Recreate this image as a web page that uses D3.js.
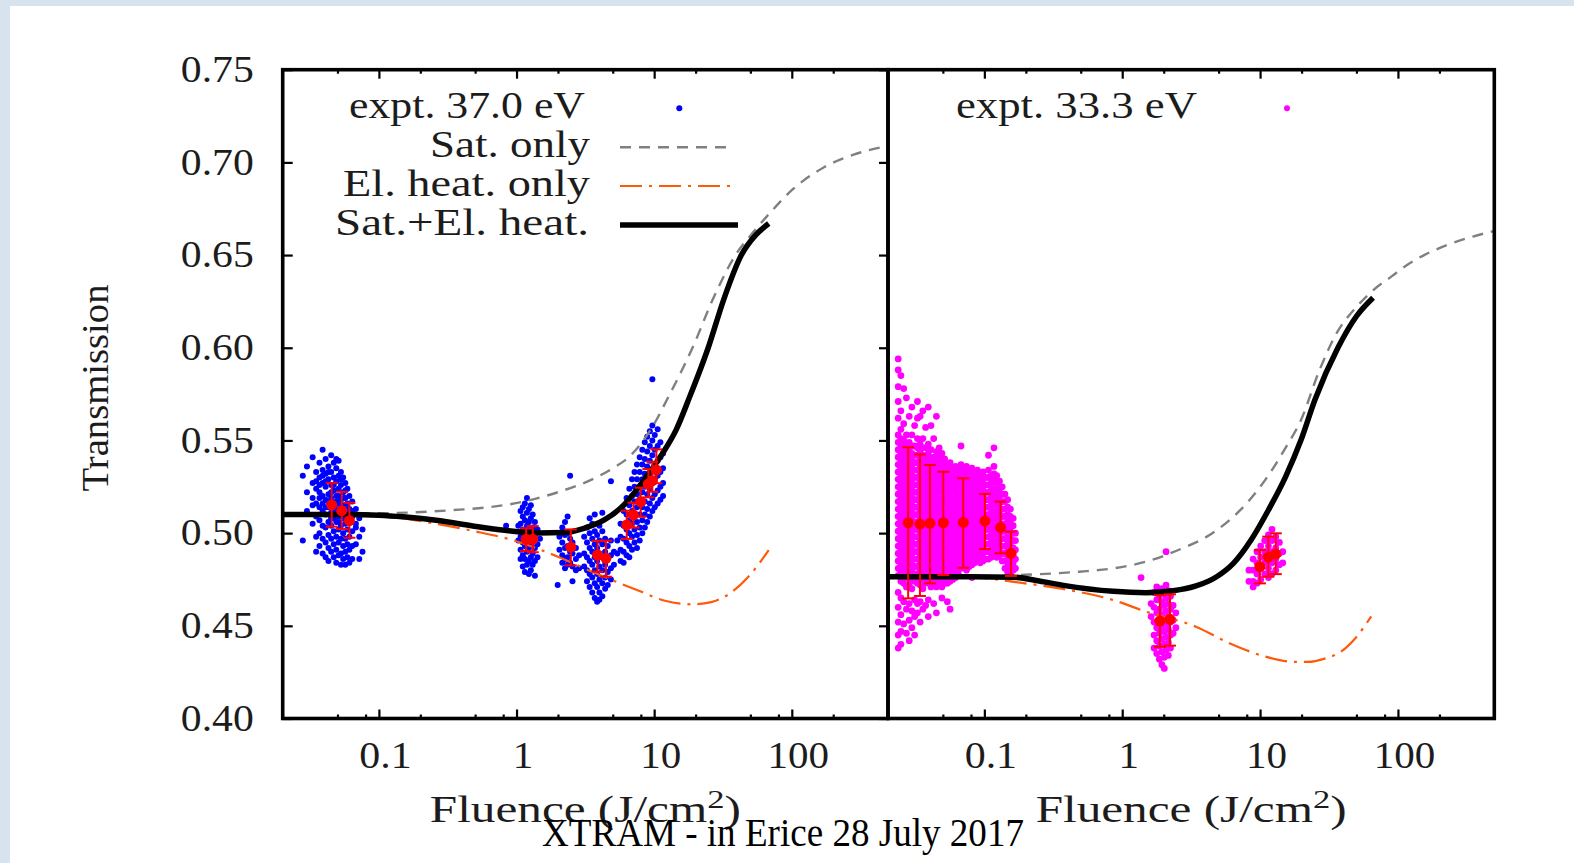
<!DOCTYPE html>
<html>
<head>
<meta charset="utf-8">
<script src="https://cdn.jsdelivr.net/npm/d3@7"></script>
<style>
  html, body { margin: 0; padding: 0; background: #ffffff; }
  svg { display: block; }
</style>
</head>
<body>
<svg id="chart" width="1574" height="863"></svg>
<script>
// ---------------- data ----------------
const fluenceDomain = [0.02, 500];
const transmissionDomain = [0.40, 0.75];
const fluenceTicks = [0.1, 1, 10, 100];
const fluenceTickLabels = ["0.1", "1", "10", "100"];
const fluenceMinorBottom = [0.05, 0.08, 0.2, 0.5, 0.8, 2, 5, 8, 20, 50, 80, 200];
const fluenceMinorTop = [0.05, 0.2, 0.5, 2, 5, 20, 50, 200];
const transmissionTicks = [0.40, 0.45, 0.50, 0.55, 0.60, 0.65, 0.70, 0.75];
const transmissionTickLabels = ["0.40", "0.45", "0.50", "0.55", "0.60", "0.65", "0.70", "0.75"];

const legendLabels37 = ["expt. 37.0 eV", "Sat. only", "El. heat. only", "Sat.+El. heat."];
const legendLabel33 = "expt. 33.3 eV";

// measured shots, 37.0 eV: [fluence, [transmission, ...]]
const expt37 = [
  [0.028, [0.496, 0.531]],
  [0.030, [0.522, 0.512, 0.536]],
  [0.033, [0.527, 0.515, 0.519, 0.505, 0.541]],
  [0.035, [0.533, 0.524, 0.516, 0.509, 0.498, 0.490, 0.528]],
  [0.037, [0.538, 0.530, 0.522, 0.514, 0.507, 0.500, 0.493, 0.519, 0.526]],
  [0.039, [0.534, 0.527, 0.520, 0.512, 0.504, 0.497, 0.489, 0.531, 0.516, 0.545]],
  [0.041, [0.540, 0.532, 0.525, 0.518, 0.510, 0.503, 0.495, 0.487, 0.514, 0.528]],
  [0.043, [0.536, 0.529, 0.521, 0.514, 0.506, 0.499, 0.492, 0.485, 0.533, 0.517]],
  [0.045, [0.542, 0.533, 0.526, 0.519, 0.511, 0.504, 0.497, 0.490, 0.508, 0.522]],
  [0.047, [0.538, 0.530, 0.523, 0.515, 0.508, 0.501, 0.494, 0.487, 0.526, 0.512]],
  [0.049, [0.535, 0.528, 0.520, 0.513, 0.506, 0.498, 0.491, 0.484, 0.517, 0.540]],
  [0.051, [0.539, 0.531, 0.524, 0.516, 0.509, 0.502, 0.495, 0.488, 0.520, 0.506]],
  [0.053, [0.533, 0.526, 0.518, 0.511, 0.504, 0.497, 0.489, 0.483, 0.514, 0.529]],
  [0.055, [0.530, 0.522, 0.515, 0.508, 0.500, 0.493, 0.486, 0.519, 0.511]],
  [0.057, [0.527, 0.519, 0.512, 0.505, 0.497, 0.490, 0.483, 0.523]],
  [0.059, [0.524, 0.516, 0.509, 0.502, 0.494, 0.487, 0.513]],
  [0.061, [0.520, 0.513, 0.506, 0.498, 0.491, 0.484]],
  [0.064, [0.517, 0.509, 0.501, 0.493, 0.486, 0.512]],
  [0.068, [0.513, 0.503, 0.494, 0.505]],
  [0.072, [0.508, 0.498, 0.486]],
  [0.076, [0.502, 0.490]],
  [0.84, [0.504]],
  [1.03, [0.504, 0.496]],
  [1.07, [0.512, 0.505, 0.498, 0.491, 0.486]],
  [1.11, [0.509, 0.502, 0.495, 0.488, 0.482, 0.514]],
  [1.15, [0.516, 0.507, 0.500, 0.493, 0.486, 0.479, 0.498]],
  [1.19, [0.519, 0.511, 0.504, 0.497, 0.490, 0.483, 0.494]],
  [1.23, [0.513, 0.506, 0.499, 0.492, 0.485, 0.478, 0.502]],
  [1.27, [0.515, 0.508, 0.501, 0.494, 0.487, 0.480, 0.497]],
  [1.31, [0.510, 0.503, 0.496, 0.489, 0.483]],
  [1.36, [0.506, 0.499, 0.492, 0.485, 0.477]],
  [1.42, [0.502, 0.494, 0.487]],
  [1.48, [0.497]],
  [1.99, [0.472]],
  [2.05, [0.498, 0.491]],
  [2.15, [0.503, 0.495, 0.488, 0.484]],
  [2.25, [0.506, 0.499, 0.492, 0.486, 0.481]],
  [2.35, [0.500, 0.493, 0.487, 0.483, 0.509]],
  [2.45, [0.531, 0.497, 0.490, 0.484]],
  [2.55, [0.495, 0.489, 0.482, 0.474]],
  [2.70, [0.492, 0.486, 0.480]],
  [2.85, [0.488, 0.481]],
  [3.10, [0.498, 0.489, 0.482]],
  [3.25, [0.503, 0.495, 0.487, 0.480, 0.474]],
  [3.40, [0.508, 0.500, 0.492, 0.485, 0.478, 0.471]],
  [3.55, [0.505, 0.497, 0.490, 0.483, 0.476, 0.468]],
  [3.70, [0.510, 0.501, 0.494, 0.487, 0.480, 0.473, 0.465]],
  [3.85, [0.499, 0.492, 0.485, 0.478, 0.471, 0.463]],
  [4.00, [0.504, 0.496, 0.489, 0.482, 0.475, 0.468, 0.464]],
  [4.20, [0.511, 0.501, 0.494, 0.487, 0.480, 0.473, 0.466]],
  [4.40, [0.497, 0.490, 0.483, 0.476, 0.470]],
  [4.60, [0.493, 0.486, 0.479, 0.472]],
  [4.85, [0.528, 0.496, 0.488, 0.481, 0.475]],
  [5.10, [0.490, 0.483]],
  [5.40, [0.496, 0.489]],
  [5.70, [0.505, 0.498, 0.491, 0.485]],
  [6.00, [0.512, 0.504, 0.497, 0.490, 0.484]],
  [6.30, [0.519, 0.510, 0.502, 0.495, 0.488]],
  [6.60, [0.524, 0.515, 0.507, 0.500, 0.493, 0.487]],
  [6.90, [0.529, 0.520, 0.512, 0.505, 0.498, 0.491]],
  [7.20, [0.533, 0.525, 0.517, 0.509, 0.502, 0.495]],
  [7.50, [0.537, 0.529, 0.521, 0.514, 0.506, 0.499, 0.492]],
  [7.85, [0.541, 0.533, 0.525, 0.518, 0.510, 0.503, 0.496]],
  [8.20, [0.545, 0.537, 0.529, 0.522, 0.514, 0.507, 0.500]],
  [8.55, [0.549, 0.540, 0.532, 0.525, 0.517, 0.510, 0.503]],
  [8.90, [0.552, 0.544, 0.536, 0.528, 0.521, 0.513, 0.506]],
  [9.30, [0.555, 0.547, 0.539, 0.531, 0.524, 0.516, 0.509]],
  [9.70, [0.583, 0.558, 0.550, 0.542, 0.534, 0.527, 0.519, 0.512]],
  [10.1, [0.553, 0.545, 0.537, 0.529, 0.521, 0.514]],
  [10.6, [0.556, 0.547, 0.539, 0.531, 0.523, 0.516]],
  [11.1, [0.549, 0.541, 0.533, 0.525, 0.518]],
  [11.6, [0.543, 0.535, 0.527, 0.520]]
];

// binned averages, 37.0 eV
const meanFluence37 = [0.0454, 0.0537, 0.0611, 1.174, 1.312, 2.48, 3.88, 4.46, 6.32, 7.07, 7.98, 9.08, 9.70, 10.37];
const meanValue37   = [0.5152, 0.5121, 0.5067, 0.4967, 0.4967, 0.4924, 0.4882, 0.4864, 0.5044, 0.5098, 0.5169, 0.5265, 0.5283, 0.5341];
const meanHigh37    = [0.5271, 0.5223, 0.5164, 0.5026, 0.5038, 0.5020, 0.4959, 0.4959, 0.5121, 0.5164, 0.5245, 0.5346, 0.5385, 0.5452];
const meanLow37     = [0.5035, 0.5022, 0.4975, 0.4904, 0.4897, 0.4826, 0.4792, 0.4765, 0.4969, 0.5030, 0.5089, 0.5193, 0.5223, 0.5269];

// model curves, 37.0 eV: [fluence, transmission]
const satOnly37 = [[0.02, 0.5101], [0.05, 0.5103], [0.1, 0.5107], [0.18, 0.5112], [0.34, 0.5124], [0.58, 0.5137], [1.11, 0.5169], [2.04, 0.5223], [3.48, 0.5287], [5.0, 0.5350], [6.4, 0.5404], [9.4, 0.5556], [13, 0.5750], [19, 0.6000], [27, 0.6270], [39, 0.6500], [52, 0.6620], [68, 0.6720], [100, 0.6850], [168, 0.6970], [278, 0.7040], [500, 0.7090]];
const elHeat37 = [[0.02, 0.5101], [0.08, 0.5095], [0.15, 0.5080], [0.25, 0.5053], [0.5, 0.5010], [0.97, 0.4959], [2.04, 0.4870], [3.77, 0.4783], [7.74, 0.4689], [12, 0.4635], [19, 0.4616], [26, 0.4628], [32, 0.4654], [48, 0.4762], [68, 0.4908]];
const satEl37 = [[0.02, 0.5101], [0.06, 0.5101], [0.1, 0.5097], [0.15, 0.5088], [0.27, 0.5068], [0.47, 0.5040], [0.82, 0.5015], [1.43, 0.5001], [2.22, 0.5003], [3.09, 0.5026], [4.34, 0.5071], [6.03, 0.5152], [8.44, 0.5287], [11.5, 0.5430], [14.5, 0.5560], [18, 0.5730], [24.7, 0.6000], [32, 0.6260], [43, 0.6500], [55, 0.6610], [68, 0.6670]];

// measured shots, 33.3 eV
const expt33 = [
  [0.0237, [0.594, 0.588, 0.579, 0.571, 0.562, 0.553, 0.549, 0.545, 0.541, 0.537, 0.533, 0.529, 0.525, 0.521, 0.517, 0.513, 0.509, 0.505, 0.501, 0.497, 0.493, 0.489, 0.485, 0.481, 0.477, 0.468, 0.460, 0.452, 0.445, 0.438]],
  [0.0248, [0.585, 0.566, 0.556, 0.551, 0.547, 0.543, 0.539, 0.535, 0.531, 0.527, 0.523, 0.519, 0.515, 0.511, 0.507, 0.503, 0.499, 0.495, 0.491, 0.487, 0.483, 0.479, 0.474, 0.465, 0.456, 0.447, 0.440]],
  [0.0260, [0.578, 0.559, 0.550, 0.546, 0.542, 0.538, 0.534, 0.530, 0.526, 0.522, 0.518, 0.514, 0.510, 0.506, 0.502, 0.498, 0.494, 0.490, 0.486, 0.482, 0.478, 0.473, 0.463, 0.451]],
  [0.0272, [0.573, 0.553, 0.548, 0.544, 0.540, 0.536, 0.532, 0.528, 0.524, 0.520, 0.516, 0.512, 0.508, 0.504, 0.500, 0.496, 0.492, 0.488, 0.484, 0.480, 0.476, 0.471, 0.459, 0.446]],
  [0.0285, [0.563, 0.549, 0.545, 0.541, 0.537, 0.533, 0.529, 0.525, 0.521, 0.517, 0.513, 0.509, 0.505, 0.501, 0.497, 0.493, 0.489, 0.485, 0.481, 0.477, 0.472, 0.462, 0.453, 0.442]],
  [0.0298, [0.568, 0.553, 0.547, 0.543, 0.539, 0.535, 0.531, 0.527, 0.523, 0.519, 0.515, 0.511, 0.507, 0.503, 0.499, 0.495, 0.491, 0.487, 0.483, 0.479, 0.475, 0.470, 0.458, 0.449]],
  [0.0312, [0.558, 0.547, 0.542, 0.538, 0.534, 0.530, 0.526, 0.522, 0.518, 0.514, 0.510, 0.506, 0.502, 0.498, 0.494, 0.490, 0.486, 0.482, 0.478, 0.474, 0.464, 0.455, 0.445]],
  [0.0327, [0.571, 0.562, 0.551, 0.546, 0.542, 0.538, 0.534, 0.530, 0.526, 0.522, 0.518, 0.514, 0.510, 0.506, 0.502, 0.498, 0.494, 0.490, 0.486, 0.482, 0.478, 0.473, 0.462, 0.457]],
  [0.0342, [0.563, 0.548, 0.544, 0.540, 0.536, 0.532, 0.528, 0.524, 0.520, 0.516, 0.512, 0.508, 0.504, 0.500, 0.496, 0.492, 0.488, 0.484, 0.480, 0.476, 0.472, 0.463, 0.452]],
  [0.0358, [0.566, 0.551, 0.546, 0.542, 0.538, 0.534, 0.530, 0.526, 0.522, 0.518, 0.514, 0.510, 0.506, 0.502, 0.498, 0.494, 0.490, 0.486, 0.482, 0.478, 0.474, 0.470, 0.459]],
  [0.0375, [0.557, 0.546, 0.541, 0.537, 0.533, 0.529, 0.525, 0.521, 0.517, 0.513, 0.509, 0.505, 0.501, 0.497, 0.493, 0.489, 0.485, 0.481, 0.477, 0.473, 0.461]],
  [0.0392, [0.568, 0.548, 0.543, 0.539, 0.535, 0.531, 0.527, 0.523, 0.519, 0.515, 0.511, 0.507, 0.503, 0.499, 0.495, 0.491, 0.487, 0.483, 0.479, 0.475, 0.464, 0.455]],
  [0.0410, [0.558, 0.545, 0.540, 0.536, 0.532, 0.528, 0.524, 0.520, 0.516, 0.512, 0.508, 0.504, 0.500, 0.496, 0.492, 0.488, 0.484, 0.480, 0.476, 0.471]],
  [0.0429, [0.551, 0.541, 0.537, 0.533, 0.529, 0.525, 0.521, 0.517, 0.513, 0.509, 0.505, 0.501, 0.497, 0.493, 0.489, 0.485, 0.481, 0.477, 0.473, 0.462]],
  [0.0449, [0.563, 0.544, 0.539, 0.535, 0.531, 0.527, 0.523, 0.519, 0.515, 0.511, 0.507, 0.503, 0.499, 0.495, 0.491, 0.487, 0.483, 0.479, 0.475, 0.471, 0.457]],
  [0.0470, [0.546, 0.542, 0.538, 0.534, 0.530, 0.526, 0.522, 0.518, 0.514, 0.510, 0.506, 0.502, 0.498, 0.494, 0.490, 0.486, 0.482, 0.478, 0.474]],
  [0.0492, [0.543, 0.539, 0.535, 0.531, 0.527, 0.523, 0.519, 0.515, 0.511, 0.507, 0.503, 0.499, 0.495, 0.491, 0.487, 0.483, 0.479, 0.475, 0.471, 0.465]],
  [0.0515, [0.540, 0.536, 0.532, 0.528, 0.524, 0.520, 0.516, 0.512, 0.508, 0.504, 0.500, 0.496, 0.492, 0.488, 0.484, 0.480, 0.476, 0.473]],
  [0.0539, [0.537, 0.533, 0.529, 0.525, 0.521, 0.517, 0.513, 0.509, 0.505, 0.501, 0.497, 0.493, 0.489, 0.485, 0.481, 0.477, 0.473, 0.463]],
  [0.0564, [0.538, 0.534, 0.530, 0.526, 0.522, 0.518, 0.514, 0.510, 0.506, 0.502, 0.498, 0.494, 0.490, 0.486, 0.482, 0.478, 0.474, 0.459]],
  [0.0590, [0.535, 0.531, 0.527, 0.523, 0.519, 0.515, 0.511, 0.507, 0.503, 0.499, 0.495, 0.491, 0.487, 0.483, 0.479, 0.475]],
  [0.0618, [0.536, 0.532, 0.528, 0.524, 0.520, 0.516, 0.512, 0.508, 0.504, 0.500, 0.496, 0.492, 0.488, 0.484, 0.480, 0.476]],
  [0.0647, [0.534, 0.530, 0.526, 0.522, 0.518, 0.514, 0.510, 0.506, 0.502, 0.498, 0.494, 0.490, 0.486, 0.482, 0.478]],
  [0.0677, [0.547, 0.537, 0.533, 0.529, 0.525, 0.521, 0.517, 0.513, 0.509, 0.505, 0.501, 0.497, 0.493, 0.489, 0.485, 0.481]],
  [0.0709, [0.534, 0.530, 0.526, 0.522, 0.518, 0.514, 0.510, 0.506, 0.502, 0.498, 0.494, 0.490, 0.486, 0.482]],
  [0.0742, [0.536, 0.532, 0.528, 0.524, 0.520, 0.516, 0.512, 0.508, 0.504, 0.500, 0.496, 0.492, 0.488, 0.484, 0.480]],
  [0.0777, [0.533, 0.529, 0.525, 0.521, 0.517, 0.513, 0.509, 0.505, 0.501, 0.497, 0.493, 0.489, 0.485, 0.482]],
  [0.0813, [0.535, 0.531, 0.527, 0.523, 0.519, 0.515, 0.511, 0.507, 0.503, 0.499, 0.495, 0.491, 0.487, 0.483, 0.476]],
  [0.0851, [0.532, 0.528, 0.524, 0.520, 0.516, 0.512, 0.508, 0.504, 0.500, 0.496, 0.492, 0.488, 0.484]],
  [0.0891, [0.534, 0.530, 0.526, 0.522, 0.518, 0.514, 0.510, 0.506, 0.502, 0.498, 0.494, 0.490, 0.486]],
  [0.0933, [0.531, 0.527, 0.523, 0.519, 0.515, 0.511, 0.507, 0.503, 0.499, 0.495, 0.491, 0.487, 0.484]],
  [0.0977, [0.533, 0.529, 0.525, 0.521, 0.517, 0.513, 0.509, 0.505, 0.501, 0.497, 0.493, 0.489, 0.485]],
  [0.1023, [0.530, 0.526, 0.522, 0.518, 0.514, 0.510, 0.506, 0.502, 0.498, 0.494, 0.490, 0.486]],
  [0.1071, [0.542, 0.534, 0.530, 0.526, 0.522, 0.518, 0.514, 0.510, 0.506, 0.502, 0.498, 0.494, 0.490, 0.486]],
  [0.1121, [0.531, 0.527, 0.523, 0.519, 0.515, 0.511, 0.507, 0.503, 0.499, 0.495, 0.491, 0.487]],
  [0.1174, [0.546, 0.536, 0.532, 0.528, 0.524, 0.520, 0.516, 0.512, 0.508, 0.504, 0.500, 0.496, 0.492, 0.488]],
  [0.1229, [0.531, 0.527, 0.523, 0.519, 0.515, 0.511, 0.507, 0.503, 0.499, 0.495, 0.491, 0.487]],
  [0.1287, [0.528, 0.524, 0.520, 0.516, 0.512, 0.508, 0.504, 0.500, 0.496, 0.492, 0.488]],
  [0.1347, [0.525, 0.521, 0.517, 0.513, 0.509, 0.505, 0.501, 0.497, 0.493, 0.489, 0.485]],
  [0.1410, [0.521, 0.517, 0.513, 0.509, 0.505, 0.501, 0.497, 0.493, 0.489, 0.485, 0.481]],
  [0.1476, [0.518, 0.514, 0.510, 0.506, 0.502, 0.498, 0.494, 0.490, 0.486, 0.482, 0.479]],
  [0.1545, [0.513, 0.509, 0.505, 0.501, 0.497, 0.493, 0.489, 0.485, 0.481, 0.478]],
  [0.1618, [0.508, 0.504, 0.500, 0.496, 0.492, 0.488, 0.484, 0.480]],
  [0.1680, [0.500, 0.496, 0.491, 0.486, 0.481]],
  [1.37, [0.476]],
  [1.62, [0.462, 0.455]],
  [1.70, [0.468, 0.460, 0.452, 0.445, 0.438]],
  [1.78, [0.471, 0.464, 0.457, 0.449, 0.442, 0.435]],
  [1.86, [0.466, 0.459, 0.452, 0.446, 0.439, 0.432]],
  [1.94, [0.470, 0.463, 0.456, 0.449, 0.443, 0.436, 0.429]],
  [2.02, [0.468, 0.461, 0.454, 0.447, 0.440, 0.433, 0.427]],
  [2.08, [0.490, 0.472, 0.465, 0.458, 0.451, 0.444, 0.437]],
  [2.16, [0.469, 0.462, 0.455, 0.448, 0.441, 0.434]],
  [2.24, [0.466, 0.459, 0.452, 0.445, 0.438]],
  [2.34, [0.461, 0.453, 0.446]],
  [2.45, [0.457, 0.449]],
  [8.3, [0.480, 0.474]],
  [8.9, [0.486, 0.480, 0.474, 0.471]],
  [9.5, [0.490, 0.484, 0.478, 0.473]],
  [10.1, [0.493, 0.487, 0.481, 0.475]],
  [10.8, [0.496, 0.490, 0.484, 0.478]],
  [11.5, [0.499, 0.493, 0.487, 0.481, 0.476]],
  [12.2, [0.502, 0.496, 0.490, 0.484, 0.478]],
  [13.0, [0.498, 0.492, 0.486, 0.480]],
  [13.8, [0.495, 0.489, 0.483]],
  [14.6, [0.490, 0.484]]
];

// binned averages, 33.3 eV
const meanFluence33 = [0.028, 0.0341, 0.0403, 0.0504, 0.0703, 0.101, 0.131, 0.156, 1.876, 2.22, 9.97, 11.46, 13.0];
const meanValue33   = [0.5056, 0.5048, 0.5053, 0.5056, 0.5058, 0.5065, 0.5031, 0.4891, 0.4526, 0.4535, 0.4819, 0.4870, 0.4887];
const meanHigh33    = [0.5463, 0.5425, 0.5368, 0.5331, 0.5296, 0.5211, 0.5170, 0.5008, 0.4665, 0.4670, 0.4909, 0.4981, 0.4999];
const meanLow33     = [0.4648, 0.4661, 0.4729, 0.4774, 0.4813, 0.4914, 0.4891, 0.4769, 0.4387, 0.4393, 0.4729, 0.4765, 0.4779];

// model curves, 33.3 eV
const satOnly33 = [[0.02, 0.4765], [0.1, 0.4767], [0.18, 0.4774], [0.49, 0.4792], [0.86, 0.4810], [1.49, 0.4846], [2.63, 0.4913], [4.5, 0.4999], [7.2, 0.5125], [10.9, 0.5287], [15.3, 0.5460], [19.8, 0.5610], [27, 0.5880], [36, 0.6080], [50, 0.6220], [66, 0.6310], [90, 0.6385], [113, 0.6440], [155, 0.6500], [229, 0.6555], [350, 0.6600], [500, 0.6630]];
const elHeat33 = [[0.02, 0.4765], [0.08, 0.4762], [0.18, 0.4733], [0.35, 0.4702], [0.86, 0.4639], [1.49, 0.4576], [3.43, 0.4495], [6.0, 0.4406], [10.9, 0.4334], [17.4, 0.4306], [22, 0.4305], [30, 0.4325], [37.8, 0.4356], [50, 0.4440], [64, 0.4551]];
const satEl33 = [[0.02, 0.4765], [0.08, 0.4765], [0.163, 0.4762], [0.25, 0.4742], [0.375, 0.4718], [0.86, 0.4686], [1.49, 0.4679], [2.34, 0.4689], [3.43, 0.4715], [4.84, 0.4765], [6.4, 0.4837], [8.6, 0.4963], [11.5, 0.5125], [15.3, 0.5304], [19.8, 0.5502], [25, 0.5720], [36.7, 0.6000], [50, 0.6170], [66, 0.6270]];

// ---------------- layout ----------------
const FONT = "'Liberation Serif', 'Times New Roman', serif";
const TEXT_COLOR = "#1c1c1c";
const plotTop = 69.7, plotBottom = 718.5;
const panelEdges = [282.7, 888, 1494.3];

// width of a numeric tick label set in a wide roman face (digits 0.5em, point 0.278em)
const numberWidth = (s, size) => [...s].reduce((w, c) => w + (c === "." ? 0.278 : 0.5), 0) * size;

const svg = d3.select("#chart");

// slide background bands
svg.append("rect").attr("x", 0).attr("y", 0).attr("width", 1574).attr("height", 6).attr("fill", "#d8e3f0");
svg.append("rect").attr("x", 0).attr("y", 0).attr("width", 10).attr("height", 863).attr("fill", "#d8e3f0");

const y = d3.scaleLinear().domain(transmissionDomain).range([plotBottom, plotTop]);
const xScales = [
  d3.scaleLog().domain(fluenceDomain).range([panelEdges[0], panelEdges[1]]),
  d3.scaleLog().domain(fluenceDomain).range([panelEdges[1], panelEdges[2]])
];

const panels = [
  { x: xScales[0], shots: expt37, color: "#0000ff", r: 3,
    means: { f: meanFluence37, v: meanValue37, hi: meanHigh37, lo: meanLow37 },
    satOnly: satOnly37, elHeat: elHeat37, satEl: satEl37 },
  { x: xScales[1], shots: expt33, color: "#ff00ff", r: 3.4,
    means: { f: meanFluence33, v: meanValue33, hi: meanHigh33, lo: meanLow33 },
    satOnly: satOnly33, elHeat: elHeat33, satEl: satEl33 }
];

const styles = {
  satOnly: { stroke: "#808080", width: 2.4, dash: "11,8" },
  elHeat:  { stroke: "#ff5a0a", width: 2.2, dash: "22,7,3,7" },
  satEl:   { stroke: "#000000", width: 5.5, dash: null }
};

panels.forEach(p => {
  const g = svg.append("g");
  const pts = p.shots.flatMap(([f, ys]) => ys.map(v => [f, v]));
  g.append("g").selectAll("circle").data(pts).join("circle")
    .attr("cx", d => p.x(d[0])).attr("cy", d => y(d[1]))
    .attr("r", p.r).attr("fill", p.color);

  const line = d3.line().x(d => p.x(d[0])).y(d => y(d[1])).curve(d3.curveMonotoneX);
  ["elHeat", "satOnly", "satEl"].forEach(k => {
    g.append("path").datum(p[k]).attr("d", line)
      .attr("fill", "none").attr("stroke", styles[k].stroke)
      .attr("stroke-width", styles[k].width)
      .attr("stroke-dasharray", styles[k].dash)
      .attr("stroke-linejoin", "round");
  });

  const m = p.means.f.map((f, i) => ({ f, v: p.means.v[i], hi: p.means.hi[i], lo: p.means.lo[i] }));
  const eb = g.append("g").attr("stroke", "#ff0000").attr("stroke-width", 2);
  eb.selectAll("line.v").data(m).join("line").attr("class", "v")
    .attr("x1", d => p.x(d.f)).attr("x2", d => p.x(d.f))
    .attr("y1", d => y(d.hi)).attr("y2", d => y(d.lo));
  eb.selectAll("line.t").data(m).join("line").attr("class", "t")
    .attr("x1", d => p.x(d.f) - 6).attr("x2", d => p.x(d.f) + 6)
    .attr("y1", d => y(d.hi)).attr("y2", d => y(d.hi));
  eb.selectAll("line.b").data(m).join("line").attr("class", "b")
    .attr("x1", d => p.x(d.f) - 6).attr("x2", d => p.x(d.f) + 6)
    .attr("y1", d => y(d.lo)).attr("y2", d => y(d.lo));
  g.append("g").selectAll("circle").data(m).join("circle")
    .attr("cx", d => p.x(d.f)).attr("cy", d => y(d.v))
    .attr("r", 5.5).attr("fill", "#ff0000");
});

// ---------------- axes & frames ----------------
function styleAxis(sel) {
  sel.select(".domain").remove();
  sel.selectAll("line").attr("stroke", "#000").attr("stroke-width", 2.2);
  sel.selectAll("text").attr("font-family", FONT).attr("font-size", 37).attr("fill", TEXT_COLOR)
    .attr("lengthAdjust", "spacingAndGlyphs")
    .each(function () {
      const s = this.textContent;
      if (s) this.setAttribute("textLength", numberWidth(s, 41));
    });
}

svg.append("g").attr("transform", `translate(${panelEdges[0]},0)`)
  .call(d3.axisLeft(y).tickValues(transmissionTicks)
    .tickFormat((d, i) => transmissionTickLabels[i]).tickSize(-10).tickPadding(29))
  .call(styleAxis);
svg.append("g").attr("transform", `translate(${panelEdges[1]},0)`)
  .call(d3.axisRight(y).tickValues(transmissionTicks).tickFormat(() => "").tickSize(-9))
  .call(styleAxis);

xScales.forEach(x => {
  svg.append("g").attr("transform", `translate(0,${plotBottom})`)
    .call(d3.axisBottom(x).tickValues(fluenceTicks)
      .tickFormat((d, i) => fluenceTickLabels[i]).tickSize(-9).tickPadding(23))
    .call(styleAxis)
    .call(s => s.selectAll("text").attr("dx", 6));
  svg.append("g").attr("transform", `translate(0,${plotBottom})`)
    .call(d3.axisBottom(x).tickValues(fluenceMinorBottom).tickFormat(() => "").tickSize(-4))
    .call(styleAxis);
  svg.append("g").attr("transform", `translate(0,${plotTop})`)
    .call(d3.axisTop(x).tickValues(fluenceTicks).tickFormat(() => "").tickSize(-9))
    .call(styleAxis);
  svg.append("g").attr("transform", `translate(0,${plotTop})`)
    .call(d3.axisTop(x).tickValues(fluenceMinorTop).tickFormat(() => "").tickSize(-4))
    .call(styleAxis);

  const [r0, r1] = x.range();
  svg.append("rect").attr("x", r0).attr("y", plotTop)
    .attr("width", r1 - r0).attr("height", plotBottom - plotTop)
    .attr("fill", "none").attr("stroke", "#000").attr("stroke-width", 3.6);

  const t = svg.append("text").attr("x", (r0 + r1) / 2).attr("y", 822)
    .attr("text-anchor", "middle").attr("font-family", FONT).attr("font-size", 37)
    .attr("fill", TEXT_COLOR).attr("textLength", 311).attr("lengthAdjust", "spacingAndGlyphs");
  t.append("tspan").text("Fluence (J/cm");
  t.append("tspan").attr("dy", -14).attr("font-size", 26).text("2");
  t.append("tspan").attr("dy", 14).text(")");
});

svg.append("text").attr("transform", "translate(108,388) rotate(-90)")
  .attr("text-anchor", "middle").attr("font-family", FONT).attr("font-size", 38)
  .attr("fill", TEXT_COLOR).attr("textLength", 207).attr("lengthAdjust", "spacingAndGlyphs")
  .text("Transmission");

// ---------------- legends ----------------
const legendRowY = [118.3, 157, 196, 235];
const legendWidths = [236, 160, 247, 254];
const legendRight = [585, 590, 590, 589];
legendLabels37.forEach((s, i) => {
  svg.append("text").attr("x", legendRight[i]).attr("y", legendRowY[i])
    .attr("text-anchor", "end").attr("font-family", FONT).attr("font-size", 37)
    .attr("fill", TEXT_COLOR).attr("textLength", legendWidths[i])
    .attr("lengthAdjust", "spacingAndGlyphs").text(s);
});
svg.append("circle").attr("cx", 679.3).attr("cy", 108.3).attr("r", 3).attr("fill", "#0000ff");
[["satOnly", 147.3, 732], ["elHeat", 186, 735], ["satEl", 225, 738]].forEach(([k, ly, x2]) => {
  svg.append("line").attr("x1", 620).attr("x2", x2).attr("y1", ly).attr("y2", ly)
    .attr("stroke", styles[k].stroke).attr("stroke-width", styles[k].width)
    .attr("stroke-dasharray", styles[k].dash);
});

svg.append("text").attr("x", 956).attr("y", 118.3)
  .attr("font-family", FONT).attr("font-size", 37).attr("fill", TEXT_COLOR)
  .attr("textLength", 241).attr("lengthAdjust", "spacingAndGlyphs").text(legendLabel33);
svg.append("circle").attr("cx", 1287).attr("cy", 108.3).attr("r", 3).attr("fill", "#ff00ff");

// ---------------- footer ----------------
svg.append("text").attr("x", 542).attr("y", 846)
  .attr("font-family", FONT).attr("font-size", 41).attr("fill", "#000")
  .attr("textLength", 482).attr("lengthAdjust", "spacingAndGlyphs")
  .text("XTRAM - in Erice 28 July 2017");
</script>
</body>
</html>
